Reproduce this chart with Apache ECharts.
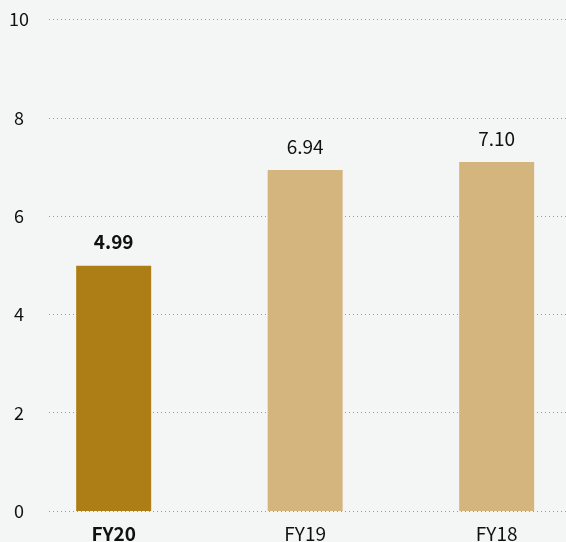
<!DOCTYPE html>
<html>
<head>
<meta charset="utf-8">
<script src="https://cdn.jsdelivr.net/npm/echarts@6/dist/echarts.min.js"></script>
<style>
html,body{margin:0;padding:0;background:#f4f6f5;}
#c{width:566px;height:542px;}
</style>
</head>
<body>
<div id="c"></div>
<script>
const categories = ['FY20', 'FY19', 'FY18'];
const values = [4.99, 6.94, 7.10];
const yTicks = [0, 2, 4, 6, 8, 10];

const highlightIndex = 0;
const FONT = '"Noto Sans CJK JP", "Noto Sans", sans-serif';
const chart = echarts.init(document.getElementById('c'));

const positions = categories.map((c, i) => i);
const barData = values.map((v, i) => ({
  value: [i, v],
  itemStyle: { color: i === highlightIndex ? '#ae7e16' : '#d4b57d' },
  label: { fontWeight: i === highlightIndex ? 'bold' : 'normal' }
}));

chart.setOption({
  backgroundColor: '#f4f6f5',
  animation: false,
  grid: { left: 49, right: 0, top: 19.5, bottom: 31, outerBoundsMode: 'none' },
  xAxis: {
    type: 'value', min: -0.3377, max: 2.362,
    axisLine: { show: false }, axisTick: { show: false }, splitLine: { show: false },
    axisLabel: {
      customValues: positions,
      margin: 13, fontFamily: FONT, fontSize: 19, color: '#111',
      formatter: v => {
        const i = Math.round(v);
        return i === highlightIndex ? '{b|' + categories[i] + '}' : categories[i];
      },
      rich: { b: { fontFamily: FONT, fontSize: 19, fontWeight: 'bold', color: '#111' } }
    }
  },
  yAxis: {
    type: 'value', min: yTicks[0], max: yTicks[yTicks.length - 1], interval: 2,
    axisLine: { show: false }, axisTick: { show: false },
    axisLabel: { margin: 30, align: 'center', fontFamily: FONT, fontSize: 18, color: '#111' },
    splitLine: { show: true, lineStyle: { type: [1, 3], color: '#9a9a9a', width: 1 } }
  },
  series: [{
    type: 'bar',
    data: barData,
    barWidth: 75,
    label: {
      show: true, position: 'top', distance: 14,
      fontFamily: FONT, fontSize: 19, color: '#111',
      formatter: p => p.value[1].toFixed(2)
    }
  }]
});
</script>
</body>
</html>
